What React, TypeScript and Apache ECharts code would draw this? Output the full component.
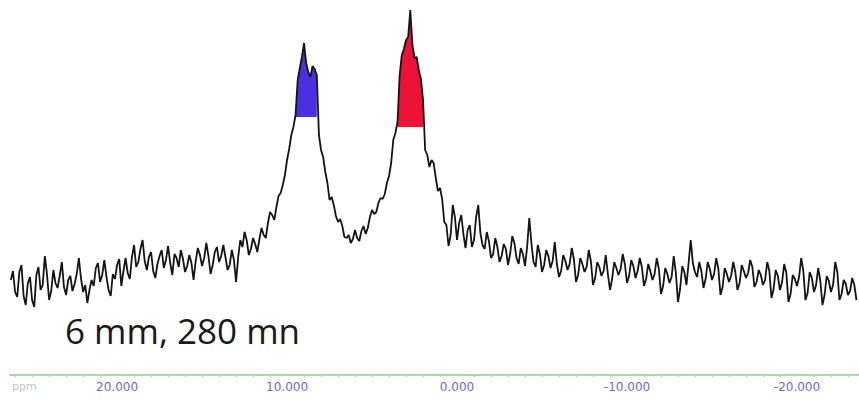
import React, { useEffect, useRef } from "react";
import * as echarts from "echarts";

// Chemical shift of the first sample and spacing between samples (ppm, descending)
const shiftStart = 26.25;
const shiftStep = 0.125;

// Recorded intensity, one value per sample
const intensity = [
  95, 104, 83, 78, 103, 110, 79, 70, 92, 98, 75, 68, 100, 108, 85, 90, 119, 101, 75, 84,
  105, 92, 87, 99, 113, 88, 80, 95, 99, 84, 91, 101, 117, 97, 83, 90, 72, 85, 95, 89,
  107, 112, 93, 100, 115, 98, 85, 79, 101, 96, 110, 116, 89, 104, 117, 102, 96, 118, 130, 108,
  113, 126, 135, 114, 105, 118, 123, 104, 97, 111, 119, 125, 107, 115, 129, 112, 100, 121, 117, 108,
  125, 116, 103, 109, 120, 112, 95, 114, 127, 120, 109, 117, 132, 119, 101, 110, 123, 128, 113, 119,
  130, 118, 105, 110, 125, 115, 93, 118, 135, 128, 143, 135, 120, 126, 137, 131, 123, 136, 147, 140,
  137, 152, 163, 160, 155, 168, 179, 182, 190, 200, 215, 226, 240, 248, 260, 295, 307, 318, 332, 312,
  303, 298, 309, 306, 300, 240, 225, 218, 203, 192, 175, 178, 170, 159, 153, 156, 149, 138, 137, 140,
  132, 136, 145, 137, 134, 144, 149, 141, 147, 158, 165, 161, 163, 172, 177, 176, 181, 192, 199, 212,
  235, 242, 253, 300, 320, 326, 335, 338, 365, 330, 317, 318, 305, 296, 275, 225, 220, 208, 215, 212,
  197, 184, 187, 176, 153, 150, 129, 140, 170, 158, 135, 152, 160, 141, 127, 145, 150, 128, 135, 158,
  170, 142, 130, 126, 143, 134, 117, 121, 137, 128, 113, 119, 131, 126, 110, 121, 139, 132, 117, 111,
  127, 121, 109, 128, 157, 132, 113, 108, 130, 121, 103, 110, 125, 119, 107, 114, 133, 111, 98, 104,
  120, 114, 105, 111, 127, 116, 93, 100, 117, 111, 103, 108, 125, 114, 90, 97, 113, 108, 99, 104,
  120, 101, 85, 96, 113, 107, 100, 106, 121, 111, 92, 99, 115, 109, 97, 104, 117, 108, 89, 96,
  111, 104, 95, 101, 117, 106, 81, 89, 107, 101, 92, 98, 119, 102, 73, 86, 109, 103, 90, 112,
  135, 112, 103, 98, 113, 104, 87, 96, 113, 106, 95, 101, 117, 106, 80, 88, 107, 101, 93, 99,
  113, 103, 85, 92, 110, 104, 97, 102, 115, 108, 88, 93, 105, 100, 90, 95, 113, 104, 77, 86,
  105, 99, 85, 93, 111, 102, 73, 81, 100, 96, 89, 98, 117, 104, 75, 82, 103, 97, 83, 90,
  107, 94, 70, 80, 99, 94, 83, 90, 113, 103, 75, 81, 95, 91, 80, 84, 97, 90, 75,
];

// Integrated peak regions: shift range (ppm) and the integration floor
const peakFrom = [9.5, 3.5];
const peakTo = [8.25, 2.0];
const peakFloor = [258, 248];
const peakColor = ["#4a2fe3", "#ee1236"];

const caption = "6 mm, 280 mn";
const unitLabel = "ppm";

const points: [number, number][] = intensity.map((v, i) => [
  shiftStart - i * shiftStep,
  v,
]);

export default function App() {
  const ref = useRef<HTMLDivElement>(null);

  useEffect(() => {
    if (!ref.current) return;
    const chart = echarts.init(ref.current, undefined, { renderer: "svg" });

    const peakSeries = peakFrom.map((from, k) => ({
      type: "line" as const,
      data: points.filter((p) => p[0] <= from + 1e-9 && p[0] >= peakTo[k] - 1e-9),
      symbol: "none",
      lineStyle: { width: 0 },
      areaStyle: { color: peakColor[k], opacity: 1, origin: peakFloor[k] },
      z: 1,
      silent: true,
    }));

    chart.setOption({
      animation: false,
      backgroundColor: "#ffffff",
      grid: { left: 10, right: 0, top: 0, bottom: 29 },
      xAxis: {
        type: "value",
        inverse: true,
        min: -23.65,
        max: 26.3,
        splitNumber: 5,
        axisLine: { show: true, lineStyle: { color: "#98e498", width: 2 } },
        axisTick: { show: false },
        minorTick: {
          show: true,
          splitNumber: 10,
          length: 2,
          lineStyle: { color: "#a4d8a4", width: 1 },
        },
        splitLine: { show: false },
        axisLabel: {
          showMinLabel: false,
          showMaxLabel: false,
          margin: 6,
          color: "#6a6ad6",
          fontSize: 12,
          fontFamily: "DejaVu Sans",
          formatter: (v: number) => v.toFixed(3),
        },
      },
      yAxis: {
        type: "value",
        min: 0,
        max: 375,
        show: false,
      },
      series: [
        ...peakSeries,
        {
          type: "line",
          data: points,
          symbol: "none",
          lineStyle: { color: "#141414", width: 1.8 },
          z: 3,
          silent: true,
        },
      ],
      graphic: [
        {
          type: "text",
          left: 65,
          top: 313,
          style: {
            text: caption,
            fontSize: 35,
            fontFamily: "Open Sans",
            fill: "#1a1a1a",
          },
        },
        {
          type: "text",
          left: 12,
          top: 381,
          style: {
            text: unitLabel,
            fontSize: 11,
            fontFamily: "DejaVu Sans",
            fill: "#c4c4c4",
          },
        },
      ],
    });

    return () => chart.dispose();
  }, []);

  return (
    <div
      ref={ref}
      style={{ position: "absolute", left: 0, top: 0, width: 859, height: 404 }}
    />
  );
}
